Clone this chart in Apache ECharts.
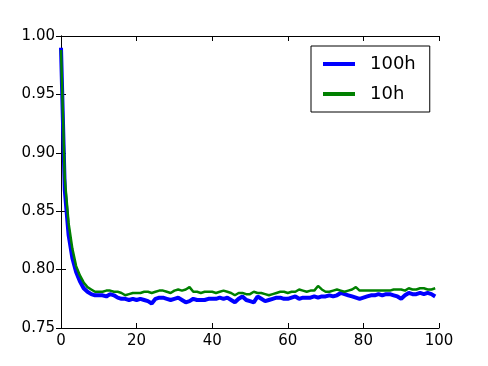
<!DOCTYPE html>
<html><head><meta charset="utf-8">
<script src="https://cdn.jsdelivr.net/npm/echarts@6/dist/echarts.min.js"></script>
<style>html,body{margin:0;padding:0;background:#fff}#c{width:488px;height:366px}</style>
</head><body><div id="c"></div>
<script>
var xValues = [];
for (var i = 0; i < 100; i++) xValues.push(i);
var blue100h = [0.990,0.868,0.830,0.810,0.798,0.790,0.784,0.781,0.779,0.778,
0.778,0.778,0.777,0.779,0.778,0.776,0.775,0.775,0.774,0.775,
0.774,0.775,0.774,0.773,0.771,0.775,0.776,0.776,0.775,0.774,
0.775,0.776,0.774,0.772,0.773,0.775,0.774,0.774,0.774,0.775,
0.775,0.775,0.776,0.775,0.776,0.774,0.772,0.775,0.777,0.774,
0.773,0.772,0.777,0.775,0.773,0.774,0.775,0.776,0.776,0.775,
0.775,0.776,0.777,0.775,0.776,0.776,0.776,0.777,0.776,0.777,
0.777,0.778,0.777,0.778,0.780,0.779,0.778,0.777,0.776,0.775,
0.776,0.777,0.778,0.778,0.779,0.778,0.779,0.779,0.778,0.777,
0.775,0.778,0.780,0.779,0.779,0.780,0.779,0.780,0.779,0.777];
var green10h = [0.988,0.878,0.840,0.818,0.803,0.795,0.789,0.785,0.783,0.781,
0.781,0.781,0.782,0.782,0.781,0.781,0.780,0.778,0.779,0.780,
0.780,0.780,0.781,0.781,0.780,0.781,0.782,0.782,0.781,0.780,
0.782,0.783,0.782,0.783,0.785,0.781,0.781,0.780,0.781,0.781,
0.781,0.780,0.781,0.782,0.781,0.780,0.778,0.780,0.780,0.779,
0.779,0.781,0.780,0.780,0.779,0.778,0.779,0.780,0.781,0.781,
0.780,0.781,0.781,0.783,0.782,0.781,0.782,0.782,0.786,0.783,
0.781,0.781,0.782,0.783,0.782,0.781,0.782,0.783,0.785,0.782,
0.782,0.782,0.782,0.782,0.782,0.782,0.782,0.782,0.783,0.783,
0.783,0.782,0.784,0.783,0.783,0.784,0.784,0.783,0.783,0.784];
var seriesNames = ['100h', '10h'];

var font = 'DejaVu Sans';
var chart = echarts.init(document.getElementById('c'), null, {renderer: 'canvas'});
function pairs(arr){ return arr.map(function(v,i){ return [xValues[i], v]; }); }
var axisCommon = {
  axisLine: {show: true, lineStyle: {color: '#000', width: 1}},
  axisTick: {show: true, inside: true, length: 5, lineStyle: {color: '#000'}},
  splitLine: {show: false}
};
chart.setOption({
  animation: false,
  grid: {left: 61, right: 49, top: 36, bottom: 38},
  xAxis: [
    Object.assign({type: 'value', min: 0, max: 100, interval: 20, position: 'bottom',
      axisLabel: {color: '#000', fontFamily: font, fontSize: 15, margin: 6}}, axisCommon),
    Object.assign({type: 'value', min: 0, max: 100, interval: 20, position: 'top',
      axisLabel: {show: false}}, axisCommon)
  ],
  yAxis: [
    Object.assign({type: 'value', min: 0.75, max: 1.0, interval: 0.05, position: 'left',
      axisLabel: {color: '#000', fontFamily: font, fontSize: 15, margin: 6,
        formatter: function(v){ return v.toFixed(2); }}}, axisCommon),
    Object.assign({type: 'value', min: 0.75, max: 1.0, interval: 0.05, position: 'right',
      axisLabel: {show: false}}, axisCommon)
  ],
  legend: {
    left: 311, top: 46, orient: 'vertical',
    width: 120,
    padding: [9, 14, 9, 12],
    itemGap: 12,
    itemWidth: 32, itemHeight: 4,
    icon: 'rect',
    borderColor: '#000', borderWidth: 1,
    textStyle: {fontFamily: font, fontSize: 18, color: '#000', padding: [0, 0, 0, 10]},
    data: [
      {name: seriesNames[0], icon: 'rect'},
      {name: seriesNames[1], icon: 'rect'}
    ]
  },
  series: [
    {name: seriesNames[0], type: 'line', data: pairs(blue100h), showSymbol: false,
      lineStyle: {color: '#0000ff', width: 4}, itemStyle: {color: '#0000ff'}},
    {name: seriesNames[1], type: 'line', data: pairs(green10h), showSymbol: false,
      lineStyle: {color: '#008000', width: 2.5}, itemStyle: {color: '#008000'}}
  ]
});
</script></body></html>
